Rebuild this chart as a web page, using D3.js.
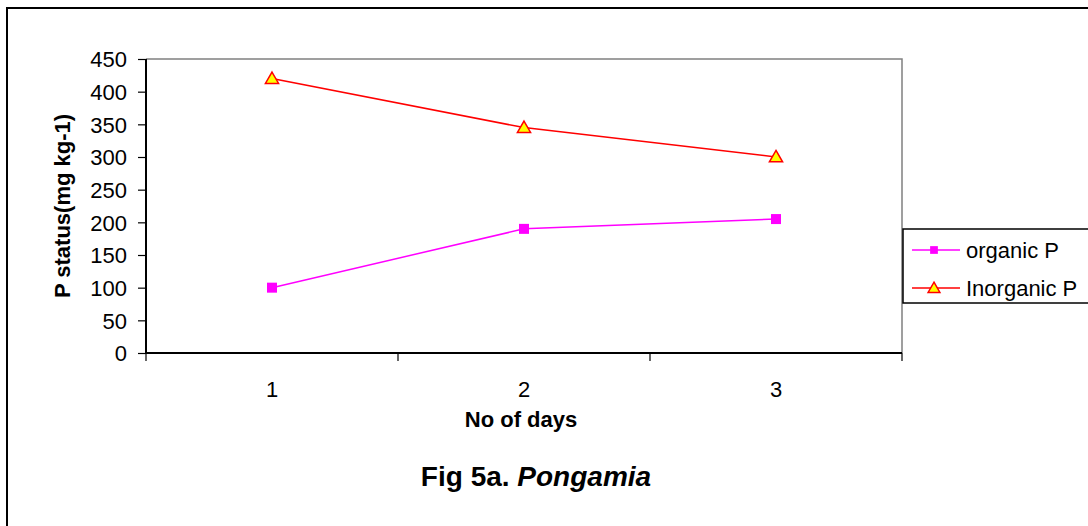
<!DOCTYPE html>
<html>
<head>
<meta charset="utf-8">
<script src="https://cdn.jsdelivr.net/npm/d3@7"></script>
<style>
  body { margin: 0; background: #fff; }
  svg { display: block; font-family: "Liberation Sans", Arial, sans-serif; }
</style>
</head>
<body>
<svg id="chart" width="1088" height="526"></svg>
<script>
const days = ["1", "2", "3"];
const organicP = [100, 190, 205];
const inorganicP = [420, 345, 300];
const yTicks = [0, 50, 100, 150, 200, 250, 300, 350, 400, 450];

const svg = d3.select("#chart");

// outer frame (runs off the right and bottom)
svg.append("rect")
    .attr("x", 7).attr("y", 8)
    .attr("width", 1100).attr("height", 540)
    .style("fill", "none").style("stroke", "#000").style("stroke-width", 2);

const plot = {left: 146, right: 902, top: 59, bottom: 353};

const x = d3.scaleBand()
    .domain(days)
    .range([plot.left, plot.right]);

const y = d3.scaleLinear()
    .domain([0, 450])
    .range([plot.bottom, plot.top]);

// gray top and right edges of plot area
svg.append("path")
    .attr("d", `M${plot.left},${plot.top}H${plot.right}V${plot.bottom}`)
    .style("fill", "none").style("stroke", "#808080").style("stroke-width", 1.5);

const yAxis = svg.append("g")
    .attr("transform", `translate(${plot.left},0)`)
    .call(d3.axisLeft(y).tickValues(yTicks).tickSize(8).tickPadding(11));

const xAxis = svg.append("g")
    .attr("transform", `translate(0,${plot.bottom})`)
    .call(d3.axisBottom(x).tickSize(0).tickPadding(28));

// x ticks sit between categories
xAxis.selectAll(".sep")
    .data([plot.left, ...days.map(d => x(d) + x.bandwidth())])
    .enter().append("line")
    .attr("class", "sep")
    .attr("x1", d => d).attr("x2", d => d)
    .attr("y1", 0).attr("y2", 8)
    .style("stroke", "#000").style("stroke-width", 1.2);

[yAxis, xAxis].forEach(g => {
    g.select(".domain").style("stroke", "#000").style("stroke-width", 2);
    g.selectAll(".tick line").style("stroke", "#000").style("stroke-width", 1.2);
    g.selectAll("text")
        .style("font-size", "22px")
        .style("font-family", "'Liberation Sans', Arial, sans-serif")
        .style("fill", "#000");
});
yAxis.selectAll("text").attr("dy", "0.36em");
xAxis.select(".domain").attr("d", `M${plot.left},0H${plot.right}`);
yAxis.select(".domain").attr("d", `M0,${plot.bottom}V${plot.top}`);

const line = d3.line()
    .x((d, i) => x(days[i]) + x.bandwidth() / 2)
    .y(d => y(d));

svg.append("path")
    .datum(organicP)
    .attr("d", line)
    .style("fill", "none").style("stroke", "#ff00ff").style("stroke-width", 1.5);

svg.append("path")
    .datum(inorganicP)
    .attr("d", line)
    .style("fill", "none").style("stroke", "#ff0000").style("stroke-width", 1.5);

const sq = d3.symbol().type(d3.symbolSquare).size(100);
const tri = d3.symbol().type(d3.symbolTriangle).size(75);

svg.selectAll(".sq")
    .data(organicP)
    .enter().append("path")
    .attr("class", "sq")
    .attr("d", sq)
    .attr("transform", (d, i) => `translate(${x(days[i]) + x.bandwidth() / 2},${y(d)})`)
    .style("fill", "#ff00ff");

svg.selectAll(".tri")
    .data(inorganicP)
    .enter().append("path")
    .attr("class", "tri")
    .attr("d", tri)
    .attr("transform", (d, i) => `translate(${x(days[i]) + x.bandwidth() / 2},${y(d) + 1})`)
    .style("fill", "#ffff00").style("stroke", "#ff0000").style("stroke-width", 1.5);

// axis titles
svg.append("text")
    .attr("transform", `translate(70,${(plot.top + plot.bottom) / 2}) rotate(-90)`)
    .attr("text-anchor", "middle")
    .style("font-size", "22px").style("font-weight", "bold")
    .text("P status(mg kg-1)");

svg.append("text")
    .attr("x", (plot.left + plot.right) / 2 - 3).attr("y", 427)
    .attr("text-anchor", "middle")
    .style("font-size", "22px").style("font-weight", "bold")
    .text("No of days");

const title = svg.append("text")
    .attr("x", 536).attr("y", 486)
    .attr("text-anchor", "middle")
    .style("font-size", "28px").style("font-weight", "bold");
title.append("tspan").text("Fig 5a. ");
title.append("tspan").style("font-style", "italic").text("Pongamia");

// legend
const legend = svg.append("g").attr("transform", "translate(903,229)");
legend.append("rect")
    .attr("width", 200).attr("height", 74)
    .style("fill", "#fff").style("stroke", "#000").style("stroke-width", 1.5);

const legendItems = [
    {name: "organic P", color: "#ff00ff", type: d3.symbolSquare, fill: "#ff00ff", stroke: "none"},
    {name: "Inorganic P", color: "#ff0000", type: d3.symbolTriangle, fill: "#ffff00", stroke: "#ff0000"}
];

const li = legend.selectAll(".li")
    .data(legendItems)
    .enter().append("g")
    .attr("transform", (d, i) => `translate(0,${21 + i * 38})`);

li.append("line")
    .attr("x1", 9).attr("x2", 57)
    .style("stroke", d => d.color).style("stroke-width", 1.5);
li.append("path")
    .attr("d", d => d3.symbol().type(d.type).size(60)())
    .attr("transform", (d, i) => `translate(31,${i ? 1 : 0})`)
    .style("fill", d => d.fill).style("stroke", d => d.stroke).style("stroke-width", 1.5);
li.append("text")
    .attr("x", 63).attr("y", 8)
    .style("font-size", "22px")
    .text(d => d.name);
</script>
</body>
</html>
